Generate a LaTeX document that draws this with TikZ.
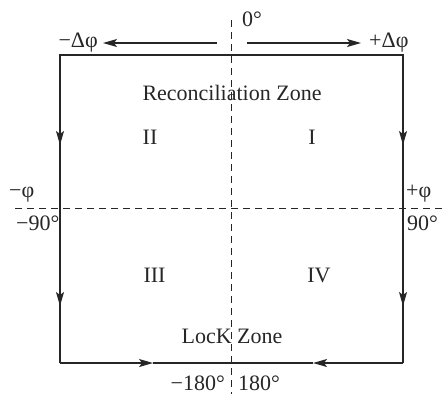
\documentclass[tikz,border=0pt]{standalone}
\usepackage{fontspec}
\setmainfont{Liberation Serif}
\usetikzlibrary{arrows.meta}
\begin{document}
\begin{tikzpicture}[x=1pt,y=-1pt,
  lbl/.style={inner sep=0pt, font=\fontsize{22}{24}\selectfont, text=black!85},
  edge/.style={line width=1.3pt, draw=black!85},
  tip/.style={-{Stealth[length=14pt,width=8pt,inset=3pt]}},
  axis/.style={line width=0.9pt, dash pattern=on 7pt off 5pt, draw=black!85}]
\useasboundingbox (0,0) rectangle (443,394);
% corners and arrow tips
\coordinate (tl) at (60,55);
\coordinate (tr) at (403,55);
\coordinate (bl) at (60,363);
\coordinate (br) at (403,363);
\coordinate (l1) at (60,145);
\coordinate (l2) at (60,306);
\coordinate (r1) at (403,145);
\coordinate (r2) at (403,306);
\coordinate (b1) at (153,363);
\coordinate (b2) at (313,363);
\coordinate (vtop) at (231,20);
\coordinate (vbot) at (231,394);
\coordinate (hl) at (15,208);
\coordinate (hr) at (443,208);
\coordinate (ta) at (217,43);
\coordinate (tal) at (103,43);
\coordinate (tb) at (247,43);
\coordinate (tbr) at (361,43);
% axes
\draw[axis] (vtop) -- (vbot);
\draw[axis] (hl) -- (hr);
% box
\draw[edge] (bl) -- (tl) -- (tr) -- (br);
\draw[edge,tip] (tl) -- (l1);
\draw[edge,tip] (l1) -- (l2);
\draw[edge] (l2) -- (bl);
\draw[edge,tip] (tr) -- (r1);
\draw[edge,tip] (r1) -- (r2);
\draw[edge] (r2) -- (br);
\draw[edge,tip] (bl) -- (b1);
\draw[edge] (b1) -- (b2);
\draw[edge,tip] (br) -- (b2);
% top arrows
\draw[edge,tip] (ta) -- (tal);
\draw[edge,tip] (tb) -- (tbr);
% labels
\node[lbl, anchor=base west] (zero) at (242,26) {0°};
\node[lbl, anchor=base east] (mdphi) at (98,47) {−Δφ};
\node[lbl, anchor=base west] (pdphi) at (369,47) {+Δφ};
\node[lbl, anchor=base] (rz) at (232,100) {Reconciliation Zone};
\node[lbl, anchor=base] (lz) at (232,343) {LocK Zone};
\node[lbl, anchor=base] (q2) at (150,144) {II};
\node[lbl, anchor=base] (q1) at (312,144) {I};
\node[lbl, anchor=base] (q3) at (154.5,282) {III};
\node[lbl, anchor=base] (q4) at (319,282) {IV};
\node[lbl, anchor=base west] (mphi) at (9,197) {−φ};
\node[lbl, anchor=base west] (m90) at (16,230) {−90°};
\node[lbl, anchor=base west] (pphi) at (406,197) {+φ};
\node[lbl, anchor=base west] (p90) at (407,230) {90°};
\node[lbl, anchor=base east] (m180) at (225,390) {−180°};
\node[lbl, anchor=base west] (p180) at (238,390) {180°};
\end{tikzpicture}
\end{document}
